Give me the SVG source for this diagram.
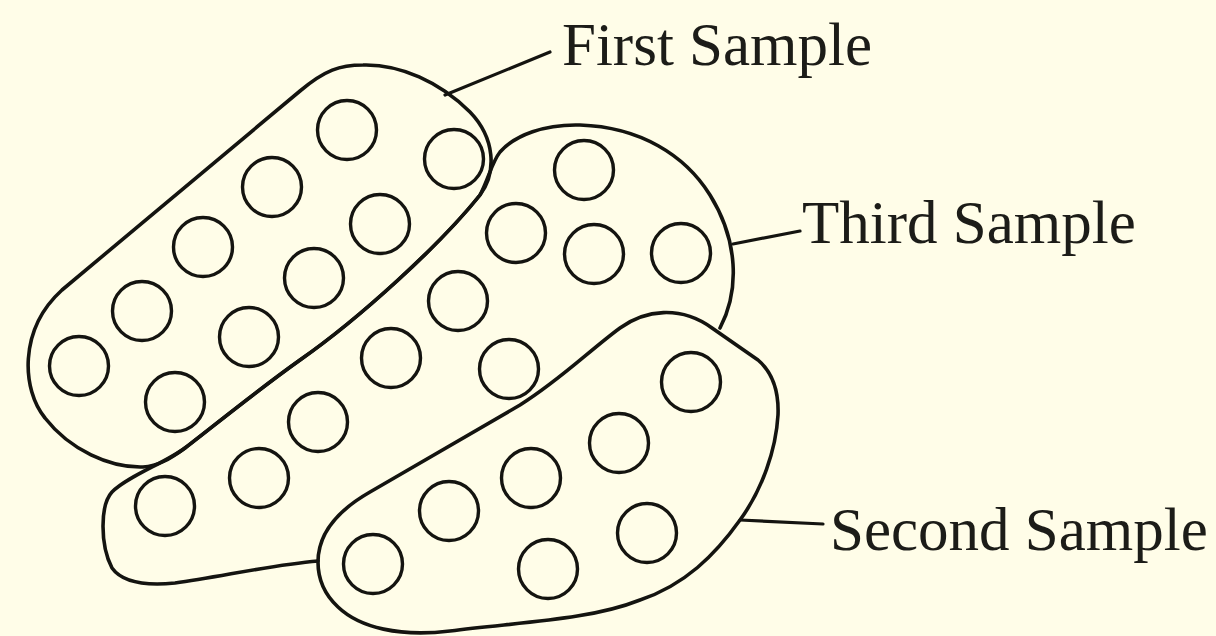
<svg xmlns="http://www.w3.org/2000/svg" width="1216" height="636" viewBox="0 0 1216 636">
<style>
.o{fill:none;stroke:#141410;stroke-width:3.6;stroke-linejoin:round;stroke-linecap:round}
.c{fill:none;stroke:#141410;stroke-width:3.4}
.l{fill:none;stroke:#141410;stroke-width:3.2;stroke-linecap:round}
.t{font-family:"Liberation Serif","Times New Roman",serif;font-size:61px;fill:#1c1c18}
</style>
<defs><circle id="dot" r="29.5" class="c"/></defs>
<rect width="1216" height="636" fill="#FFFDE8"/>
<g id="first-sample">
<path class="o" d="M363,65 C400,64 440,82 470,112 C495,138 497,172 480,195 C440,245 360,318 300,360 C255,392 215,425 185,448 C170,459 158,466 143,467 C110,468 70,450 45,418 C22,390 18,330 62,290 L300,91 C325,70 340,65 363,65 Z"/>
<use href="#dot" x="79" y="366"/><use href="#dot" x="142" y="311"/><use href="#dot" x="203" y="247"/><use href="#dot" x="272" y="187"/><use href="#dot" x="347" y="130"/><use href="#dot" x="454" y="159"/><use href="#dot" x="380" y="224"/><use href="#dot" x="314" y="278"/><use href="#dot" x="249" y="337"/><use href="#dot" x="175" y="402"/>
<text class="t" x="562" y="65">First Sample</text>
</g>
<g id="third-sample">
<path class="o" d="M720,328 C740,290 738,240 710,195 C685,155 640,127 580,125 C545,124 515,135 500,152 C492,162 488,180 480,195 C440,245 360,318 300,360 C255,392 215,425 185,448 C165,463 128,476 112,492 C100,505 100,545 112,568 C122,582 145,586 175,583 C220,577 270,565 318,561"/>
<use href="#dot" x="584" y="170"/><use href="#dot" x="516" y="233"/><use href="#dot" x="594" y="254"/><use href="#dot" x="681" y="253"/><use href="#dot" x="458" y="301"/><use href="#dot" x="391" y="358"/><use href="#dot" x="509" y="369"/><use href="#dot" x="318" y="422"/><use href="#dot" x="259" y="478"/><use href="#dot" x="165" y="506"/>
<text class="t" x="802" y="243">Third Sample</text>
</g>
<g id="second-sample">
<path class="o" d="M318,562 C318,535 335,512 370,492 L520,405 C560,380 590,350 620,328 C645,310 680,305 712,328 L758,360 C772,372 779,390 778,415 C776,450 762,490 740,520 C715,555 685,585 640,600 C590,620 520,622 450,631 C400,637 360,628 338,607 C324,594 318,578 318,562 Z"/>
<use href="#dot" x="691" y="382"/><use href="#dot" x="619" y="443"/><use href="#dot" x="531" y="478"/><use href="#dot" x="449" y="511"/><use href="#dot" x="373" y="564"/><use href="#dot" x="647" y="533"/><use href="#dot" x="548" y="569"/>
<text class="t" x="830" y="550">Second Sample</text>
</g>
<g id="connectors">
<path class="l" d="M445,95 L550,52"/>
<path class="l" d="M733,244 L800,231"/>
<path class="l" d="M740,520 L823,524"/>
</g>
</svg>
